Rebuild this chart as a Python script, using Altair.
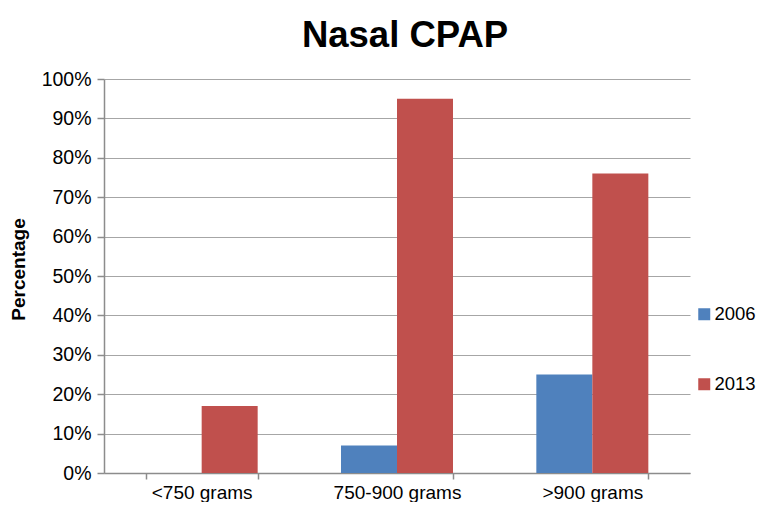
import altair as alt
import pandas as pd

categories = ["<750 grams", "750-900 grams", ">900 grams"]
years = ["2006", "2013"]
values_2006 = [0, 7, 25]
values_2013 = [17, 95, 76]
y_ticks = [0, 10, 20, 30, 40, 50, 60, 70, 80, 90, 100]
colors = ["#4F81BD", "#C0504D"]

rows = []
for c, v in zip(categories, values_2006):
    rows.append({"group": c, "year": "2006", "pct": v})
for c, v in zip(categories, values_2013):
    rows.append({"group": c, "year": "2013", "pct": v})
df = pd.DataFrame(rows)

FONT = "Liberation Sans"
GRID = "#a6a6a6"
AXIS = "#8c8c8c"

chart = alt.Chart(df).mark_bar().encode(
    x=alt.X(
        "group:N", sort=categories, title=None,
        scale=alt.Scale(paddingInner=0.4266, paddingOuter=0.2133),
        axis=alt.Axis(labelAngle=0, tickBand="extent", domainColor=AXIS, tickColor=AXIS,
                      domainWidth=1.5, tickWidth=1.5, tickSize=6, labelFontSize=19,
                      labelPadding=4, labelColor="black", labelFont=FONT, grid=False),
    ),
    xOffset=alt.XOffset("year:N", sort=years, scale=alt.Scale(paddingInner=0, paddingOuter=0)),
    y=alt.Y(
        "pct:Q", scale=alt.Scale(domain=[0, 100], nice=False),
        axis=alt.Axis(values=y_ticks, labelExpr="datum.value + '%'", title="Percentage",
                      titleFont=FONT, titleFontSize=19, titleFontWeight="bold", titleColor="black",
                      titlePadding=13, titleY=190, labelFont=FONT, labelFontSize=19.5,
                      labelColor="black", labelPadding=6, tickSize=7, tickColor=AXIS,
                      tickWidth=1.5, domainColor=AXIS, domainWidth=1.5, grid=True,
                      gridColor=GRID, gridWidth=1.2),
    ),
    color=alt.Color(
        "year:N", scale=alt.Scale(domain=years, range=colors),
        legend=alt.Legend(title=None, orient="none", legendX=591, legendY=226,
                          symbolType="square", symbolSize=144, symbolStrokeWidth=0,
                          labelFont=FONT, labelFontSize=18.5, labelColor="black",
                          labelOffset=1, rowPadding=51, padding=0),
    ),
).properties(
    width=586, height=394,
    title=alt.TitleParams("Nasal CPAP", font=FONT, fontSize=36.5, fontWeight="bold",
                          color="black", anchor="middle", dx=8, offset=15),
    padding={"left": 96, "top": 71, "right": 68, "bottom": 29},
    autosize=alt.AutoSizeParams(type="none"),
).configure_view(stroke=None)

chart.save("out.html", embed_options={"renderer": "svg", "actions": False})
